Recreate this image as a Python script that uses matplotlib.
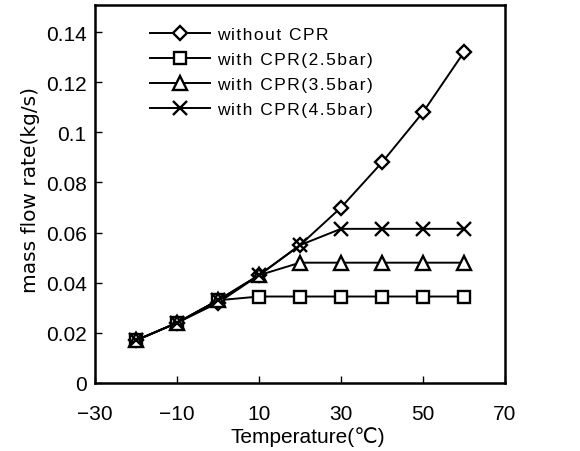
import matplotlib
matplotlib.use("Agg")
import matplotlib.pyplot as plt

plt.rcParams["font.family"] = ["Liberation Sans", "DejaVu Sans", "Noto Sans CJK KR"]

temperature = [-20, -10, 0, 10, 20, 30, 40, 50, 60]
without_cpr = [0.017, 0.024, 0.032, 0.043, 0.055, 0.070, 0.088, 0.108, 0.132]
cpr_25 = [0.017, 0.024, 0.033, 0.0345, 0.0345, 0.0345, 0.0345, 0.0345, 0.0345]
cpr_35 = [0.017, 0.024, 0.033, 0.043, 0.048, 0.048, 0.048, 0.048, 0.048]
cpr_45 = [0.017, 0.024, 0.033, 0.043, 0.055, 0.0615, 0.0615, 0.0615, 0.0615]

series = [
    ("without CPR", without_cpr, "D", 7.5),
    ("with CPR(2.5bar)", cpr_25, "s", 8.5),
    ("with CPR(3.5bar)", cpr_35, "^", 9.5),
    ("with CPR(4.5bar)", cpr_45, "x", 10),
]


def spaced(text, sep="\u200a"):
    # poor man's letter spacing
    return sep.join(text)


fig = plt.figure(figsize=(5.8, 4.52), dpi=100)
ax = fig.add_axes([95 / 580, 1 - 384 / 452, 410 / 580, 378 / 452])

for label, values, marker, size in series:
    ax.plot(temperature, values, color="black", lw=1.4, marker=marker,
            markersize=size, markerfacecolor="white", markeredgecolor="black",
            markeredgewidth=1.7, label=spaced(label))

ax.set_xlim(-30, 70)
ax.set_ylim(0, 0.1508)
ax.set_xticks([-30, -10, 10, 30, 50, 70])
ax.set_xticklabels(["\u221230", "\u221210", "10", "30", "50", "70"])
ax.set_yticks([0, 0.02, 0.04, 0.06, 0.08, 0.1, 0.12, 0.14])
ax.set_yticklabels(["0", "0.02", "0.04", "0.06", "0.08", "0.1", "0.12", "0.14"])
ax.tick_params(direction="in", length=5, width=1, labelsize=15)
ax.tick_params(axis="x", pad=15)
ax.tick_params(axis="y", pad=6)
for spine in ax.spines.values():
    spine.set_linewidth(1.8)

ax.set_xlabel("Temperature(\u2103)", fontsize=15)
ax.xaxis.set_label_coords(0.52, -0.115)
ax.set_ylabel("mass flow rate(kg/s)", fontsize=14.5, family="DejaVu Sans")
ax.yaxis.set_label_coords(-0.135, 0.513)

ax.legend(loc="upper left", bbox_to_anchor=(0.134, 0.942), frameon=False,
          fontsize=12.5, handlelength=3.45, handletextpad=0.4,
          labelspacing=0.56, borderaxespad=0, borderpad=0)

fig.savefig("out.png", dpi=100)
